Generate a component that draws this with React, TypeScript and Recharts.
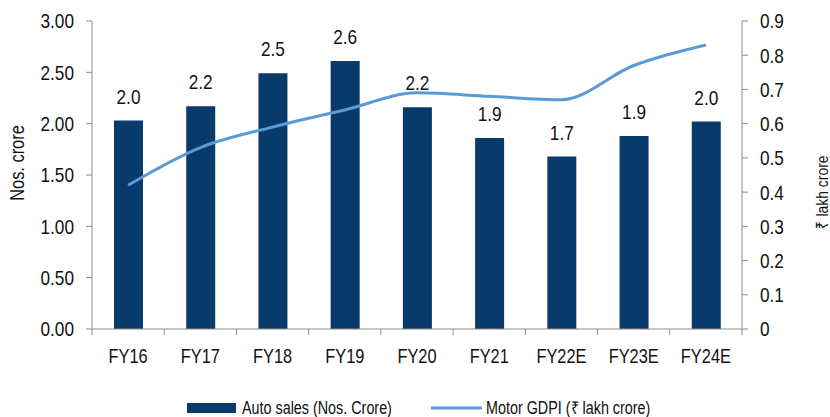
import React from 'react';
import { ComposedChart, Bar, Line, XAxis, YAxis, Legend, LabelList } from 'recharts';

const categories = ['FY16', 'FY17', 'FY18', 'FY19', 'FY20', 'FY21', 'FY22E', 'FY23E', 'FY24E'];
const autoSales = [2.03, 2.17, 2.49, 2.61, 2.16, 1.86, 1.68, 1.88, 2.02];
const motorGdpi = [0.42, 0.53, 0.59, 0.64, 0.69, 0.68, 0.67, 0.77, 0.83];
const leftTicks = [0, 0.5, 1, 1.5, 2, 2.5, 3];
const rightTicks = [0, 0.1, 0.2, 0.3, 0.4, 0.5, 0.6, 0.7, 0.8, 0.9];
const seriesNames = ['Auto sales (Nos. Crore)', 'Motor GDPI (₹ lakh crore)'];

const data = categories.map((c, i) => ({ name: c, sales: autoSales[i], gdpi: motorGdpi[i] }));

const FONT = "'Liberation Sans', Arial, sans-serif";
const SX = 0.82;
const BAR = '#083A6B';
const LINE = '#5B9BD5';
const AXIS = '#8C8C8C';
const TEXT = '#111111';

const NT = ({ x, y, anchor = 'start', size = 20, dy = 0, rotate = 0, children }: any) => (
  <text
    transform={`translate(${x},${y})${rotate ? ` rotate(${rotate})` : ''} scale(${SX},1)`}
    textAnchor={anchor}
    fontFamily={FONT}
    fontSize={size}
    dy={dy}
    fill={TEXT}
  >
    {children}
  </text>
);

const XTick = (props: any) => {
  const { x, payload, index } = props;
  const half = payload && payload.offset ? payload.offset : 36.1;
  const axisY = 329;
  return (
    <g>
      <line x1={x - half} x2={x - half} y1={axisY} y2={axisY + 6} stroke={AXIS} strokeWidth={1} />
      {index === categories.length - 1 && (
        <line x1={x + half} x2={x + half} y1={axisY} y2={axisY + 6} stroke={AXIS} strokeWidth={1} />
      )}
      <NT x={x} y={363} anchor="middle" size={20}>{payload.value}</NT>
    </g>
  );
};

const LeftTick = (props: any) => {
  const { x, y, payload } = props;
  return <NT x={x} y={y} anchor="end" size={21} dy="0.355em">{Number(payload.value).toFixed(2)}</NT>;
};

const RightTick = (props: any) => {
  const { x, y, payload } = props;
  const v = Number(payload.value);
  return <NT x={x} y={y} anchor="start" size={21} dy="0.355em">{v === 0 ? '0' : v.toFixed(1)}</NT>;
};

const BarLabel = (props: any) => {
  const { x, y, width, value } = props;
  return <NT x={x + width / 2} y={y - 17} anchor="middle" size={21}>{Number(value).toFixed(1)}</NT>;
};

const LeftLabel = (props: any) => {
  const vb = props.viewBox || { x: 0, y: 21, width: 92, height: 308 };
  const cx = vb.x + 17;
  const cy = vb.y + vb.height / 2 - 12;
  return <NT x={cx} y={cy} anchor="middle" size={20} dy="0.355em" rotate={-90}>Nos. crore</NT>;
};

const RightLabel = (props: any) => {
  const vb = props.viewBox || { x: 742, y: 21, width: 88, height: 308 };
  const cx = vb.x + 80;
  const cy = vb.y + vb.height / 2 + 17;
  return <NT x={cx} y={cy} anchor="middle" size={17} dy="0.355em" rotate={-90}>₹ lakh crore</NT>;
};

const LegendContent = () => (
  <svg width={830} height={30} style={{ display: 'block' }}>
    <rect x={187} y={16} width={49} height={10} fill={BAR} />
    <NT x={242} y={26.5} size={17.5}>{seriesNames[0]}</NT>
    <line x1={431} x2={482} y1={21} y2={21} stroke={LINE} strokeWidth={3} />
    <NT x={486} y={26.5} size={17.5}>{seriesNames[1]}</NT>
  </svg>
);

export default function App() {
  return (
    <div style={{ position: 'absolute', left: 0, top: 0, width: 830, height: 417, background: '#fff' }}>
      <ComposedChart width={830} height={417} data={data} margin={{ top: 21, right: 0, left: 0, bottom: 0 }}>
        <XAxis dataKey="name" height={58} tickLine={false} stroke={AXIS} tick={<XTick />} interval={0} />
        <YAxis
          yAxisId="left"
          width={92}
          domain={[0, 3]}
          ticks={leftTicks}
          stroke={AXIS}
          tickSize={6}
          tickMargin={12}
          tick={<LeftTick />}
          label={{ content: <LeftLabel /> }}
        />
        <YAxis
          yAxisId="right"
          orientation="right"
          width={88}
          domain={[0, 0.9]}
          ticks={rightTicks}
          stroke={AXIS}
          tickSize={6}
          tickMargin={12}
          tick={<RightTick />}
          label={{ content: <RightLabel /> }}
        />
        <Legend verticalAlign="bottom" height={30} content={<LegendContent />} />
        <Bar yAxisId="left" dataKey="sales" name={seriesNames[0]} fill={BAR} barSize={29} isAnimationActive={false}>
          <LabelList dataKey="sales" content={<BarLabel />} />
        </Bar>
        <Line yAxisId="right" dataKey="gdpi" name={seriesNames[1]} type="monotone" stroke={LINE} strokeWidth={3} dot={false} isAnimationActive={false} />
      </ComposedChart>
    </div>
  );
}
